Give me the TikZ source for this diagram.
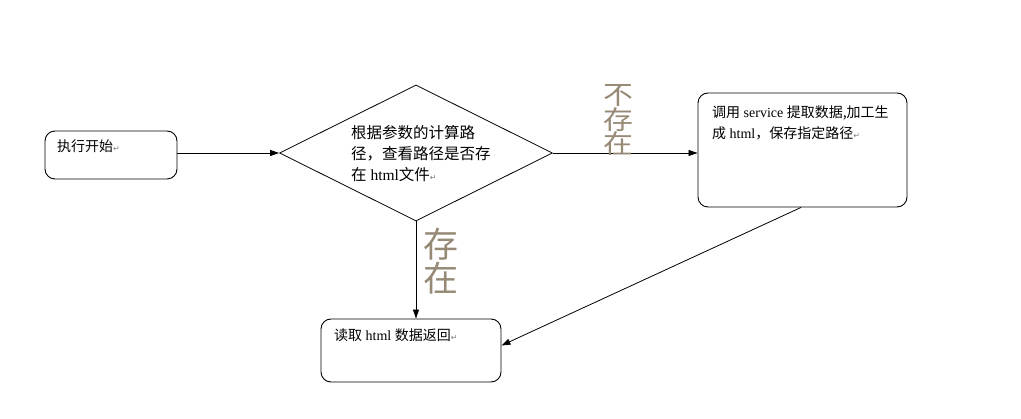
\documentclass[tikz,border=0pt]{standalone}
\usepackage{fontspec}
\usepackage{xcolor}
\usepackage{tikz}
\setmainfont{Liberation Serif}
\newfontfamily\cjk{Noto Sans CJK SC}
\newfontfamily\symfont{DejaVu Sans}
\usetikzlibrary{shapes,arrows,positioning,calc,arrows.meta}
\definecolor{wordart}{HTML}{968A76}
\newcommand{\retmark}{{\color{gray}\symfont\fontsize{8}{8}\selectfont ↵}}

\begin{document}
\begin{tikzpicture}[x=1pt,y=-1pt,
    box/.style={draw, line width=0.9pt, rounded corners=10pt, inner sep=0pt},
    txt/.style={anchor=north west, inner sep=0pt, align=left, font=\fontsize{14}{21}\selectfont},
    flow/.style={-{Triangle[length=9pt,width=6pt]}, line width=0.8pt},
    tag/.style={text=wordart, align=center, inner sep=0pt}]
    \useasboundingbox (0,0) rectangle (1021,419);
    % boxes
    \node[box, minimum width=132pt, minimum height=48pt] (start) at (111,155) {};
    \node[draw, line width=0.8pt, diamond, inner sep=0pt, aspect=2,
        minimum width=273pt, minimum height=136pt] (check) at (416,153) {};
    \node[box, minimum width=209pt, minimum height=114pt] (build) at (802.5,150) {};
    \node[box, minimum width=180pt, minimum height=63pt] (read) at (411,350.5) {};
    % texts
    \node[txt] (starttxt) at (57,140) {{\cjk 执行开始}\retmark};
    \node[txt, font=\fontsize{15.5}{21}\selectfont] (checktxt) at (351,125)
        {{\cjk 根据参数的计算路}\\{\cjk 径，查看路径是否存}\\{\cjk 在} html{\cjk 文件}\retmark};
    \node[txt] (buildtxt) at (712,106)
        {{\cjk 调用} service {\cjk 提取数据,加工生}\\{\cjk 成} html{\cjk ，保存指定路径}\retmark};
    \node[txt] (readtxt) at (334,329) {{\cjk 读取} html {\cjk 数据返回}\retmark};
    % connectors
    \draw[flow] (start.east |- check.west) -- (check.west);
    \draw[flow] (check.east) -- (check.east -| build.west);
    \draw[flow] (check.south) -- (check.south |- read.north);
    \draw[flow] ([xshift=-1.5pt]build.south) -- ([yshift=5pt]read.east);
    % labels
    \node[tag, font=\cjk\fontsize{26}{23.5}\selectfont] (no) at (618,120)
        {\scalebox{1.15}[1]{不}\\\scalebox{1.15}[1]{存}\\\scalebox{1.15}[1]{在}};
    \node[tag, font=\cjk\fontsize{35}{34}\selectfont] (yes) at (441,261) {存\\在};
\end{tikzpicture}
\end{document}
